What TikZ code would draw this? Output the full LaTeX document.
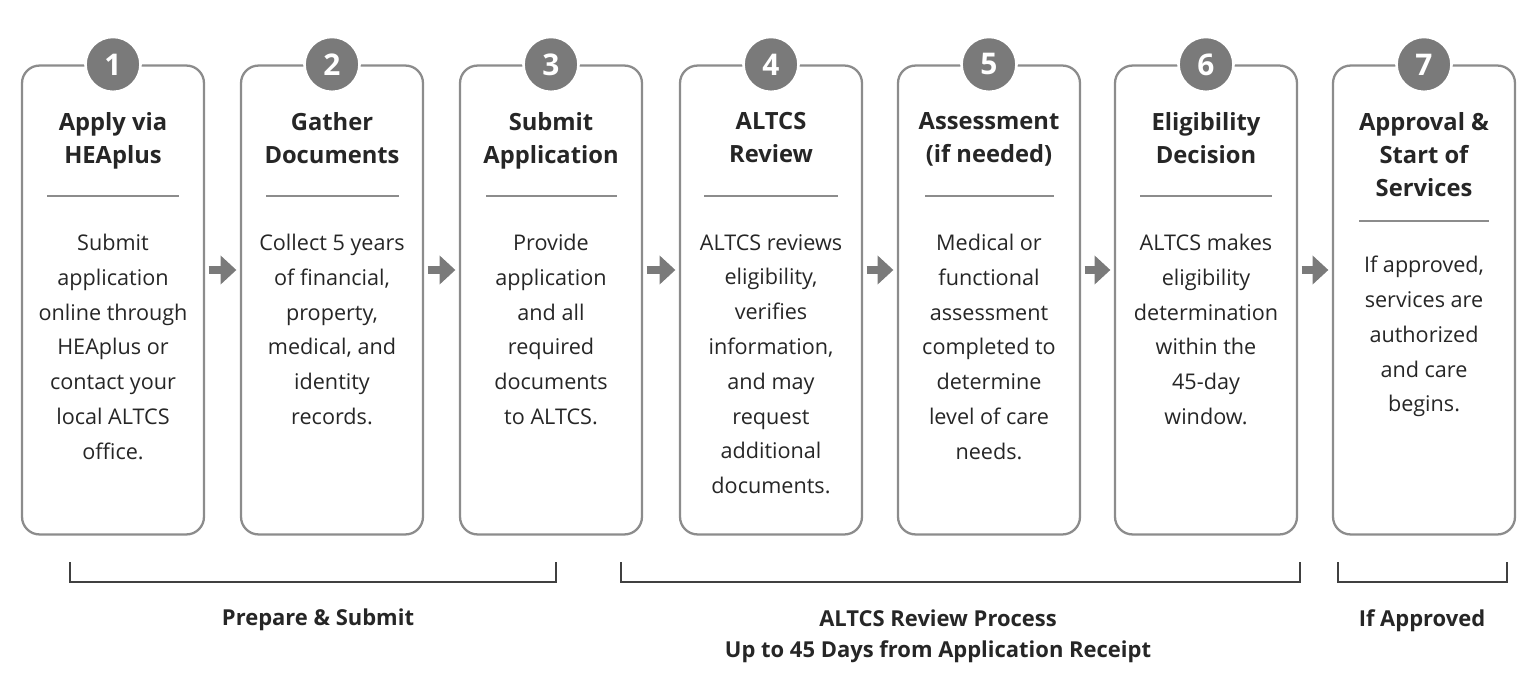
\documentclass[tikz,border=0pt]{standalone}
\usepackage{fontspec}
\setmainfont{Open Sans}
\usetikzlibrary{positioning,arrows.meta}
\definecolor{stepgray}{HTML}{7A7A7A}
\definecolor{boxgray}{HTML}{8C8C8C}
\tikzstyle{stepbox} = [draw=boxgray, line width=1.3pt, rounded corners=10pt,
    minimum width=3.64cm, minimum height=9.38cm, fill=white]
\tikzstyle{num} = [circle, fill=stepgray, draw=white, line width=1.5pt,
    minimum size=1.1cm, inner sep=0pt, text=white, font=\bfseries\fontsize{17}{17}\selectfont]
\tikzstyle{title} = [anchor=north, align=center,
    font=\bfseries\fontsize{13.5}{19}\selectfont, text=black!85]
\tikzstyle{body} = [anchor=north, align=center,
    font=\fontsize{12.3}{19.8}\selectfont, text=black!85]
\tikzstyle{rule} = [draw=boxgray, line width=1pt]
\tikzstyle{line} = [draw=stepgray, line width=5pt, -{Triangle[length=9pt,width=16pt]}, shorten >=2pt, shorten <=2pt]
\tikzstyle{brace} = [draw=black!75, line width=1.3pt]
\tikzstyle{phase} = [align=center, font=\bfseries\fontsize{12.5}{17.5}\selectfont, text=black!85]
\begin{document}
\begin{tikzpicture}[x=0.02cm, y=-0.02cm]
   \useasboundingbox (0,0) rectangle (1535,699);
   % steps
   \node [stepbox] (s1) at (113,300) {};
   \node [stepbox] (s2) at (332,300) {};
   \node [stepbox] (s3) at (551,300) {};
   \node [stepbox] (s4) at (771,300) {};
   \node [stepbox] (s5) at (989,300) {};
   \node [stepbox] (s6) at (1206,300) {};
   \node [stepbox] (s7) at (1424,300) {};
   \node [num] (n1) at (s1.north) {1};
   \node [num] (n2) at (s2.north) {2};
   \node [num] (n3) at (s3.north) {3};
   \node [num] (n4) at (s4.north) {4};
   \node [num] (n5) at (s5.north) {5};
   \node [num] (n6) at (s6.north) {6};
   \node [num] (n7) at (s7.north) {7};
   \node [title] (t1) at (113,106) {Apply via\\HEAplus};
   \node [title] (t2) at (332,106) {Gather\\Documents};
   \node [title] (t3) at (551,106) {Submit\\Application};
   \node [title] (t4) at (771,106) {ALTCS\\Review};
   \node [title] (t5) at (989,106) {Assessment\\(if needed)};
   \node [title] (t6) at (1206,106) {Eligibility\\Decision};
   \node [title] (t7) at (1424,106) {Approval \&\\Start of\\Services};
   \path [rule] (47,196) -- (179,196);
   \path [rule] (266,196) -- (399,196);
   \path [rule] (486,196) -- (617,196);
   \path [rule] (704,196) -- (838,196);
   \path [rule] (925,196) -- (1054,196);
   \path [rule] (1140,196) -- (1272,196);
   \path [rule] (1359,221) -- (1489,221);
   \node [body] (b1) at (113,228) {Submit\\application\\online through\\HEAplus or\\contact your\\local ALTCS\\office.};
   \node [body] (b2) at (332,228) {Collect 5 years\\of financial,\\property,\\medical, and\\identity\\records.};
   \node [body] (b3) at (551,228) {Provide\\application\\and all\\required\\documents\\to ALTCS.};
   \node [body] (b4) at (771,228) {ALTCS reviews\\eligibility,\\verifies\\information,\\and may\\request\\additional\\documents.};
   \node [body] (b5) at (989,228) {Medical or\\functional\\assessment\\completed to\\determine\\level of care\\needs.};
   \node [body] (b6) at (1206,228) {ALTCS makes\\eligibility\\determination\\within the\\45-day\\window.};
   \node [body] (b7) at (1424,250) {If approved,\\services are\\authorized\\and care\\begins.};
   % arrows
   \path [line] (s1.east |- 0,270) -- (s2.west |- 0,270);
   \path [line] (s2.east |- 0,270) -- (s3.west |- 0,270);
   \path [line] (s3.east |- 0,270) -- (s4.west |- 0,270);
   \path [line] (s4.east |- 0,270) -- (s5.west |- 0,270);
   \path [line] (s5.east |- 0,270) -- (s6.west |- 0,270);
   \path [line] (s6.east |- 0,270) -- (s7.west |- 0,270);
   % phases
   \path [brace] (70,562) -- (70,582) -- (556,582) -- (556,562);
   \path [brace] (621,562) -- (621,582) -- (1300,582) -- (1300,562);
   \path [brace] (1338,562) -- (1338,582) -- (1507,582) -- (1507,562);
   \node [phase] (p1) at (318,620) {Prepare \& Submit};
   \node [phase] (p2) at (938,636) {ALTCS Review Process\\Up to 45 Days from Application Receipt};
   \node [phase] (p3) at (1422,621) {If Approved};
\end{tikzpicture}
\end{document}
